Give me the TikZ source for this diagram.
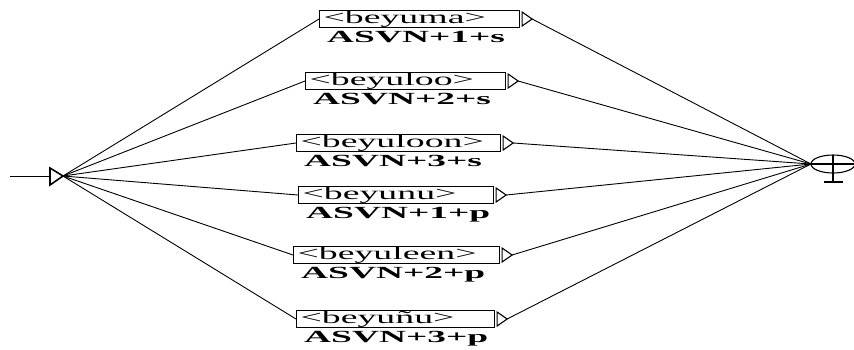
\documentclass[tikz,border=0pt]{standalone}
\usepackage{fontspec}
\setmainfont{Liberation Serif}
\newfontfamily\boxfont[FakeStretch=2.1]{Liberation Serif}
\newfontfamily\outfont[FakeStretch=2.2]{Liberation Serif}
\usetikzlibrary{calc}

\tikzset{
  lexbox/.style={draw, line width=1.1pt, anchor=west, minimum height=17pt,
    inner xsep=4pt, inner ysep=0pt, align=left, font=\boxfont\fontsize{18}{18}\selectfont},
  outlabel/.style={anchor=north west, inner sep=0pt,
    font=\outfont\bfseries\fontsize{17}{17}\selectfont},
  edge/.style={line width=0.9pt},
  tri/.style={line width=1.1pt, line join=miter}
}

\begin{document}
\begin{tikzpicture}[x=1pt, y=-1pt]
  \useasboundingbox (0,0) rectangle (854,349);

  % initial state
  \coordinate (entry) at (10,176);
  \coordinate (init) at (63,176);
  \draw[edge] (entry) -- (50,176);
  \draw[tri, line width=1.6pt] (50,168) -- (50,185) -- (init) -- cycle;

  % final state
  \coordinate (fin) at (811,164);
  \coordinate (finc) at (833,164);
  \draw[line width=1.1pt] (finc) ellipse [x radius=22, y radius=9];
  \draw[line width=1.1pt] (fin) -- (855,164);
  \draw[line width=1.1pt] (833,155) -- (833,182);
  \draw[line width=1.1pt] (824,182) -- (843,182);

  % boxes: name, west point, width, text, output
  \foreach \n/\x/\y/\w/\t/\o in {
      1/319/19/200/{<beyuma>}/{ASVN+1+s},
      2/305/81/200/{<beyuloo>}/{ASVN+2+s},
      3/296/143/204/{<beyuloon>}/{ASVN+3+s},
      4/298/195/195/{<beyunu>}/{ASVN+1+p},
      5/293/255/206/{<beyuleen>}/{ASVN+2+p},
      6/296/319/198/{<beyuñu>}/{ASVN+3+p}} {
    \node[lexbox, text width=\w pt-8pt] (b\n) at (\x,\y) {\t};
    \node[outlabel] (o\n) at ($(b\n.south west)+(8,2.5)$) {\o};
    \coordinate (t\n) at ($(b\n.east)+(12,0)$);
    \draw[tri] ($(b\n.east)+(2,-7)$) -- ($(b\n.east)+(2,7)$) -- (t\n) -- cycle;
    \draw[edge] (init) -- (b\n.west);
    \draw[edge] (t\n) -- (fin);
  }
\end{tikzpicture}
\end{document}
